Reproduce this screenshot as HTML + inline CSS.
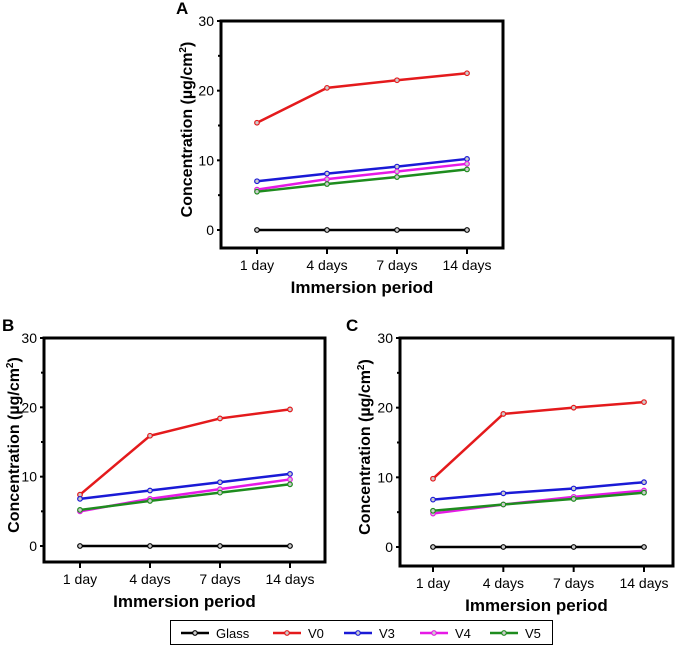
<!DOCTYPE html>
<html><head><meta charset="utf-8"><style>
body{margin:0;background:#fff;}
svg{display:block;font-family:"Liberation Sans",Arial,sans-serif;}
</style></head><body>
<svg id="chart" width="681" height="647" viewBox="0 0 681 647"></svg>
<script>
const categories=["1 day","4 days","7 days","14 days"];
const yTicks=[0,10,20,30];
const seriesNames=["Glass","V0","V3","V4","V5"];
const seriesColors=["#000000","#e41a1c","#1a1ad6","#e619e6","#1e8c1e"];
const glassA=[0,0,0,0];
const v0A=[15.4,20.4,21.5,22.5];
const v3A=[7.0,8.1,9.1,10.2];
const v4A=[5.8,7.3,8.4,9.5];
const v5A=[5.5,6.6,7.6,8.7];
const glassB=[0,0,0,0];
const v0B=[7.4,15.9,18.4,19.7];
const v3B=[6.8,8.0,9.2,10.4];
const v4B=[5.0,6.8,8.2,9.6];
const v5B=[5.2,6.5,7.7,8.9];
const glassC=[0,0,0,0];
const v0C=[9.8,19.1,20.0,20.8];
const v3C=[6.8,7.7,8.4,9.3];
const v4C=[4.8,6.1,7.2,8.1];
const v5C=[5.2,6.1,6.9,7.8];

const NS="http://www.w3.org/2000/svg";
const svg=document.getElementById('chart');
function mk(tag,attrs,parent){const e=document.createElementNS(NS,tag);for(const k in attrs)e.setAttribute(k,attrs[k]);(parent||svg).appendChild(e);return e;}

const panels=[
 {id:"a",label:"A",lx:176,ly:14,L:221,T:21,R:503,B:248,y0:230,y30:21,x1:257,x14:467,tx:186,data:[glassA,v0A,v3A,v4A,v5A]},
 {id:"b",label:"B",lx:2,ly:331,L:44,T:338,R:325,B:562,y0:546,y30:338,x1:80,x14:290,tx:13,data:[glassB,v0B,v3B,v4B,v5B]},
 {id:"c",label:"C",lx:346,ly:331,L:400,T:338,R:673,B:566,y0:547,y30:338,x1:433,x14:644,tx:364,data:[glassC,v0C,v3C,v4C,v5C]}
];
panels.forEach(p=>{
 const g=mk('g',{});
 
 
 const ys=v=>p.y0+(p.y30-p.y0)*v/30;
 const xs=i=>p.x1+(p.x14-p.x1)*i/(categories.length-1);
 const lab=mk('text',{x:p.lx,y:p.ly,'font-size':17,'font-weight':'bold'},g);lab.textContent=p.label;
 
 
 const box=mk('rect',{x:p.L,y:p.T,width:p.R-p.L,height:p.B-p.T,fill:'none',stroke:'#000','stroke-width':3},g);
 
 
 yTicks.forEach(v=>{
  const y=ys(v);
  mk('line',{x1:p.L-4,x2:p.L,y1:y,y2:y,stroke:'#000','stroke-width':2},g);
  const t=mk('text',{x:p.L-7,y:y+5,'font-size':14,'text-anchor':'end'},g);t.textContent=v;
  
  
 });
 [5,15,25].forEach(v=>{const y=ys(v);mk('line',{x1:p.L-3,x2:p.L,y1:y,y2:y,stroke:'#000','stroke-width':2},g);});
 categories.forEach((c,i)=>{
  const x=xs(i);
  mk('line',{x1:x,x2:x,y1:p.B,y2:p.B+6,stroke:'#000','stroke-width':2},g);
  const t=mk('text',{x:x,y:p.B+22,'font-size':14,'text-anchor':'middle'},g);t.textContent=c;
  
  
 });
 const xt=mk('text',{x:(p.L+p.R)/2,y:p.B+45,'font-size':17,'font-weight':'bold','text-anchor':'middle'},g);xt.textContent="Immersion period";
 
 
 const cy=(p.T+p.B)/2-5;
 const yt=mk('text',{x:0,y:6,'font-size':16,'font-weight':'bold','text-anchor':'middle',transform:`translate(${p.tx},${cy}) rotate(-90)`},g);
 yt.innerHTML='Concentration (µg/cm<tspan font-size="10" dy="-6">2</tspan><tspan dy="6">)</tspan>';
 
 
 p.data.forEach((arr,si)=>{
  const pts=arr.map((v,i)=>xs(i)+','+ys(v)).join(' ');
  const pl=mk('polyline',{points:pts,fill:'none',stroke:seriesColors[si],'stroke-width':2.5},g);
  
  
  arr.forEach((v,i)=>{
   const c=mk('circle',{cx:xs(i),cy:ys(v),r:2.3,fill:'#ccc',stroke:seriesColors[si],'stroke-width':1.2},g);
   
   
  });
 });
});
const lg=mk('g',{});


mk('rect',{x:170.5,y:620.5,width:382,height:24,fill:'#fff',stroke:'#000','stroke-width':1},lg);
const legX=[181,273,344,420,490];
seriesNames.forEach((n,i)=>{
 const e=mk('g',{},lg);
 
 
 mk('line',{x1:legX[i],x2:legX[i]+28,y1:633,y2:633,stroke:seriesColors[i],'stroke-width':2.5},e);
 mk('circle',{cx:legX[i]+14,cy:633,r:2.3,fill:'#ccc',stroke:seriesColors[i],'stroke-width':1.2},e);
 const t=mk('text',{x:legX[i]+35,y:638,'font-size':13},e);t.textContent=n;
});
</script>
</body></html>
